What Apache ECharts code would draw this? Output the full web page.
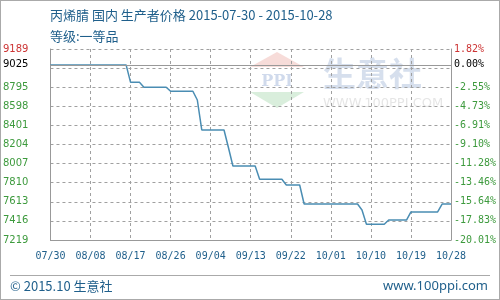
<!DOCTYPE html>
<html>
<head>
<meta charset="utf-8">
<script src="https://cdn.jsdelivr.net/npm/echarts@6/dist/echarts.min.js"></script>
<style>
html,body{margin:0;padding:0;background:#fff}
#wrap{position:relative;width:500px;height:300px}
#c{width:500px;height:300px}
#frame{position:absolute;left:0;top:0;width:498px;height:298px;border:1px solid #aaa;pointer-events:none}
</style>
</head>
<body>
<div id="wrap"><div id="c"></div><div id="frame"></div></div>
<script>
// ---- data ----
const dates = ['07-30','08-16','08-17','08-19','08-20','08-25','08-26','08-31','09-01','09-02','09-07','09-08','09-09','09-14','09-15','09-20','09-21','09-24','09-25','10-07','10-08','10-09','10-13','10-14','10-18','10-19','10-25','10-26','10-28'];
const prices = [9025,9025,8845,8845,8795,8795,8753,8753,8663,8354,8354,8170,7982,7982,7845,7845,7786,7786,7590,7590,7528,7381,7381,7425,7425,7508,7508,7590,7590];
const basePrice = 9025;
const xTickLabels = ['07/30','08/08','08/17','08/26','09/04','09/13','09/22','10/01','10/10','10/19','10/28'];
const leftTickLabels = ['7219','7416','7613','7810','8007','8204','8401','8598','8795','','9189'];
const rightTickLabels = ['-20.01%','-17.83%','-15.64%','-13.46%','-11.28%','-9.10%','-6.91%','-4.73%','-2.55%','','1.82%'];
const yMin = 7219, yMax = 9189, yStep = 197;
const xMax = 90, xStep = 9;

const start = Date.UTC(2015, 6, 30);
function dayIndex(s) {
  const [m, d] = s.split('-').map(Number);
  return Math.round((Date.UTC(2015, m - 1, d) - start) / 86400000);
}
const seriesData = dates.map((d, i) => [dayIndex(d), prices[i]]);

const green = '#3d9a3d', red = '#cc3333', blue = '#1f5f8b';
const chart = echarts.init(document.getElementById('c'));
const tickIdx = v => Math.round((v - yMin) / yStep);
const gridLine = {show: true, lineStyle: {color: '#a0a0a0', width: 1, type: [3, 3]}};

chart.setOption({
  animation: false,
  grid: {left: 50, right: 49, top: 49, bottom: 60},
  xAxis: {
    type: 'value', min: 0, max: xMax, interval: xStep,
    axisLine: {show: true, lineStyle: {color: '#999'}},
    axisTick: {show: false},
    axisLabel: {
      margin: 11, color: blue, fontFamily: 'DejaVu Sans Mono', fontSize: 10,
      formatter: v => xTickLabels[Math.round(v / xStep)] || ''
    },
    splitLine: gridLine
  },
  yAxis: [{
    type: 'value', min: yMin, max: yMax, interval: yStep, position: 'left',
    axisLine: {show: true, lineStyle: {color: '#999'}},
    axisTick: {show: false},
    axisLabel: {
      margin: 22, fontFamily: 'DejaVu Sans', fontSize: 10,
      color: (v) => tickIdx(v) === 10 ? red : green,
      formatter: v => leftTickLabels[tickIdx(v)] || ''
    },
    splitLine: gridLine
  }, {
    type: 'value', min: yMin, max: yMax, interval: yStep, position: 'right',
    axisLine: {show: true, lineStyle: {color: '#999'}},
    axisTick: {show: false},
    axisLabel: {
      margin: 3, fontFamily: 'DejaVu Sans Mono', fontSize: 10,
      color: (v) => tickIdx(v) === 10 ? red : green,
      formatter: v => rightTickLabels[tickIdx(v)] || ''
    },
    splitLine: {show: false}
  }],
  graphic: [
    {type: 'line', shape: {x1: 10, y1: 275.5, x2: 490, y2: 275.5}, style: {stroke: '#aaa', lineWidth: 1}, silent: true},
    {type: 'text', x: 50, y: 15, style: {text: '丙烯腈 国内 生产者价格 2015-07-30 - 2015-10-28', fill: blue, font: '13px "Noto Sans CJK SC"', verticalAlign: 'middle'}},
    {type: 'text', x: 50, y: 36, style: {text: '等级:一等品', fill: blue, font: '13px "Noto Sans CJK SC"', verticalAlign: 'middle'}},
    {type: 'text', x: 10, y: 286, style: {text: '© 2015.10 生意社', fill: blue, font: '13px "Noto Sans CJK SC"', verticalAlign: 'middle'}},
    {type: 'text', x: 488, y: 286, style: {text: 'www.100ppi.com', fill: blue, font: '13px "Noto Sans"', verticalAlign: 'middle', align: 'right'}},
    // watermark
    {type: 'polygon', shape: {points: [[277, 52], [250, 67], [304, 67]]}, style: {fill: 'rgba(230,140,130,0.3)'}, silent: true},
    {type: 'polygon', shape: {points: [[250, 92], [304, 92], [277, 108]]}, style: {fill: 'rgba(130,200,140,0.3)'}, silent: true},
    {type: 'text', x: 277, y: 82, style: {text: 'PPI', fill: 'rgba(120,150,200,0.35)', font: 'bold 16px "DejaVu Serif"', align: 'center', verticalAlign: 'middle'}, silent: true},
    {type: 'text', x: 323, y: 73, style: {text: '生意社', fill: 'rgba(120,150,195,0.3)', font: 'bold 33px "Noto Sans CJK SC"', verticalAlign: 'middle'}, silent: true},
    {type: 'text', x: 323, y: 104, style: {text: 'WWW.100PPI.COM', fill: 'rgba(150,150,150,0.25)', font: '13px "DejaVu Sans"', verticalAlign: 'middle'}, silent: true}
  ],
  series: [{
    type: 'line', data: seriesData, yAxisIndex: 0, showSymbol: false, symbol: 'none',
    lineStyle: {color: '#4a8db3', width: 1.5},
    z: 3,
    markLine: {
      silent: true, symbol: 'none',
      emphasis: {disabled: true},
      data: [
        {yAxis: basePrice, lineStyle: {color: '#999', type: 'solid', width: 1}, label: {show: true, position: 'start', distance: 22, formatter: String(basePrice), color: '#000', fontFamily: 'DejaVu Sans', fontSize: 10}},
        {yAxis: basePrice, lineStyle: {color: '#999', type: 'solid', width: 1}, label: {show: true, position: 'end', distance: 3, formatter: '0.00%', color: '#000', fontFamily: 'DejaVu Sans Mono', fontSize: 10}}
      ]
    }
  }]
});
</script>
</body>
</html>
